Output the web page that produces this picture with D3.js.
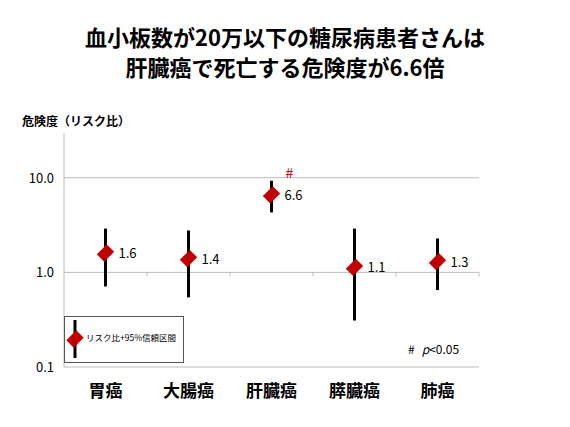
<!DOCTYPE html><html><head><meta charset="utf-8"><script src="https://cdn.jsdelivr.net/npm/d3@7"></script>
<style>body{margin:0;background:#fff}text{font-family:"Noto Sans CJK JP",sans-serif}</style></head><body><svg id="c" width="570" height="427"></svg><script>
const categories=["胃癌","大腸癌","肝臓癌","膵臓癌","肺癌"];
const rr=[1.6,1.4,6.6,1.13,1.3];
const rrLabels=["1.6","1.4","6.6","1.1","1.3"];
const lower=[0.71,0.545,4.3,0.31,0.65];
const upper=[2.9,2.77,9.3,2.9,2.28];
const yTicks=[0.1,1,10];
const svg=d3.select("#c");
const x=d3.scaleBand().domain(categories).range([64,479]);
const y=d3.scaleLog().domain([0.1,29.7]).range([367,133]);
svg.append("text").attr("x",285).attr("y",46).attr("text-anchor","middle").attr("font-size",22).attr("font-weight","bold").text("血小板数が20万以下の糖尿病患者さんは");
svg.append("text").attr("x",285).attr("y",76).attr("text-anchor","middle").attr("font-size",22).attr("font-weight","bold").text("肝臓癌で死亡する危険度が6.6倍");
svg.append("text").attr("x",22).attr("y",126).attr("font-size",12).attr("font-weight","bold").text("危険度（リスク比）");
svg.selectAll(".g").data(yTicks).join("line").attr("x1",64).attr("x2",479).attr("y1",d=>y(d)).attr("y2",d=>y(d)).attr("stroke","#bbb");
svg.append("line").attr("x1",64).attr("x2",64).attr("y1",133).attr("y2",367).attr("stroke","#bbb");
svg.selectAll(".tk").data(categories).join("line").attr("x1",d=>x(d)+x.bandwidth()).attr("x2",d=>x(d)+x.bandwidth()).attr("y1",y(1)).attr("y2",y(1)+4).attr("stroke","#bbb");
svg.selectAll(".yl").data(yTicks).join("text").attr("x",54).attr("y",d=>y(d)+5).attr("text-anchor","end").attr("font-size",13).attr("font-family","Liberation Sans").text(d=>d.toFixed(1));
svg.selectAll(".xl").data(categories).join("text").attr("x",d=>x(d)+x.bandwidth()/2).attr("y",397).attr("text-anchor","middle").attr("font-size",17).attr("font-weight","bold").text(d=>d);
const cx=i=>x(categories[i])+x.bandwidth()/2;
categories.forEach((c,i)=>{
 svg.append("line").attr("x1",cx(i)).attr("x2",cx(i)).attr("y1",y(lower[i])).attr("y2",y(upper[i])).attr("stroke","#000").attr("stroke-width",3);
 svg.append("path").attr("d",d3.symbol(d3.symbolSquare,150)()).attr("transform",`translate(${cx(i)},${y(rr[i])}) rotate(45) scale(0.85,1.15)`).attr("fill","#c00000");
 svg.append("text").attr("x",cx(i)+13).attr("y",y(rr[i])+5).attr("font-size",13).attr("font-family","DejaVu Sans").text(rrLabels[i]);
});
svg.append("text").attr("x",cx(2)+14).attr("y",178).attr("font-size",14).attr("fill","#c00000").attr("font-family","DejaVu Sans").text("#");
svg.append("rect").attr("x",64.5).attr("y",316.5).attr("width",119).attr("height",46).attr("fill","#fff").attr("stroke","#555");
svg.append("line").attr("x1",75).attr("x2",75).attr("y1",320).attr("y2",358).attr("stroke","#000").attr("stroke-width",3);
svg.append("path").attr("d",d3.symbol(d3.symbolSquare,150)()).attr("transform","translate(75,339) rotate(45) scale(0.85,1.15)").attr("fill","#c00000");
svg.append("text").attr("x",86).attr("y",341).attr("font-size",8.5).text("リスク比+95%信頼区間");
const pt=svg.append("text").attr("x",408).attr("y",354).attr("font-size",12).attr("font-family","DejaVu Sans");
pt.append("tspan").text("#");
pt.append("tspan").attr("dx",7).attr("font-style","italic").text("p");
pt.append("tspan").text("<0.05");
</script></body></html>
